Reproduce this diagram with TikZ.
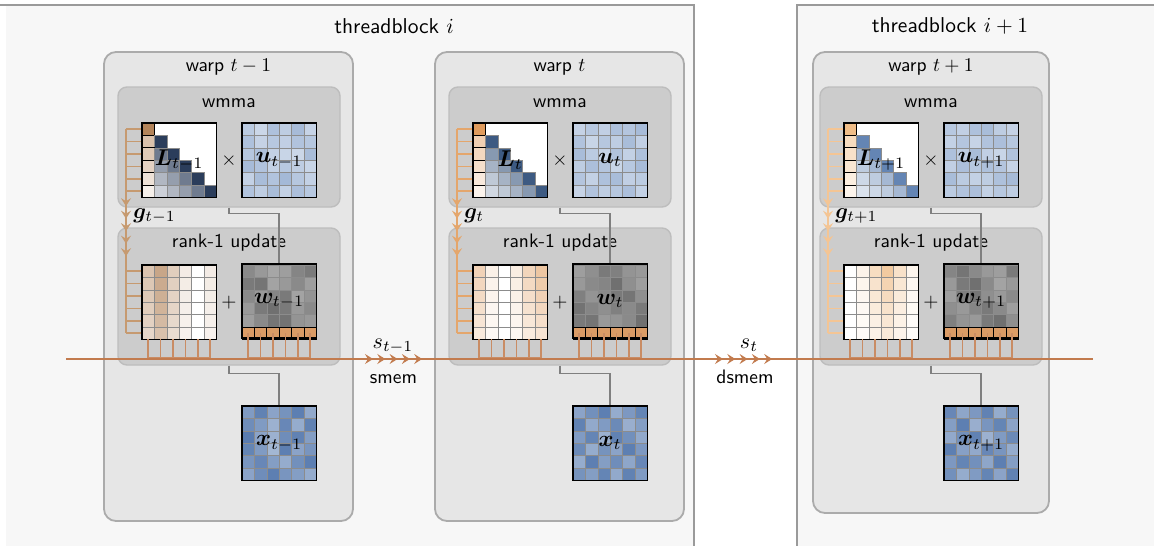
\documentclass[tikz,border=0pt]{standalone}
\usepackage{bm}
\usetikzlibrary{arrows.meta,decorations.markings}

\definecolor{tbfill}{HTML}{F7F7F7}
\definecolor{tbline}{HTML}{9A9A9A}
\definecolor{warpfill}{HTML}{E6E6E6}
\definecolor{warpline}{HTML}{ABABAB}
\definecolor{innerfill}{HTML}{CCCCCC}
\definecolor{innerline}{HTML}{BDBDBD}
\definecolor{sienna}{HTML}{C27B4E}
\definecolor{combc}{HTML}{C98C64}
\definecolor{connc}{HTML}{7F7F7F}
\definecolor{cellline}{HTML}{8C8C8C}
\definecolor{navyA}{HTML}{2B3D5B}
\definecolor{navyB}{HTML}{3D5A82}
\definecolor{navyC}{HTML}{6485B4}
\definecolor{ublue}{HTML}{7D9BC6}
\definecolor{xblue}{HTML}{4F74AB}
\definecolor{stateor}{HTML}{DB9C66}
\definecolor{gA}{HTML}{B3845A}
\definecolor{gB}{HTML}{E09C5E}
\definecolor{gC}{HTML}{EFBD88}
\definecolor{glA}{HTML}{C69A70}
\definecolor{glB}{HTML}{E4A66C}
\definecolor{glC}{HTML}{F4C594}

\tikzset{
  warpbox/.style={draw=warpline, fill=warpfill, line width=1.8pt, rounded corners=12pt, inner sep=0pt},
  innerbox/.style={draw=innerline, fill=innerfill, line width=1.4pt, rounded corners=9pt, inner sep=0pt, minimum width=222pt},
  lbl/.style={font=\sffamily, inner sep=0pt, scale=1.95},
  mathlbl/.style={inner sep=0pt, scale=2.2},
  tblbl/.style={font=\sffamily, inner sep=0pt, scale=2.15},
  mat/.style={draw=black, line width=1.5pt, minimum size=74.4pt, inner sep=0pt},
  cellA/.style={draw=cellline, line width=0.6pt},
  conn/.style={draw=connc, line width=1.5pt},
  comb/.style={draw=combc, line width=1.5pt},
  sline/.style={draw=sienna, line width=2.6pt},
  chevtip/.tip={Stealth[length=8pt,width=10pt,inset=3pt]},
}
\newcommand\mlab[1]{\scalebox{2.28}{$#1$}}

% 6x6 grid of shaded cells from a list of 36 (or 30) intensities
\newcommand\fillcells[4]{%
  \foreach \v [count=\k from 0] in #4 {%
    \pgfmathtruncatemacro\rr{floor(\k/6)}%
    \pgfmathtruncatemacro\cc{\k-6*\rr}%
    \filldraw[fill=#3!\v!white, cellA] ({#1+\cc*12.4},{#2+\rr*12.4}) rectangle ++(12.4,12.4);
  }%
}

% one warp: wmma block, rank-1 update block, state output
\newcommand\warpcontent[3]{%
\begin{scope}[xshift=#1pt]
  \node[innerbox, minimum height=120pt] (wm#2) at (229,147) {};
  \node[lbl, anchor=base] (wmt#2) at (229,107) {wmma};
  \node[innerbox, minimum height=137pt] (rk#2) at (229,296.5) {};
  \node[lbl, anchor=base] (rkt#2) at (229,247) {rank-1 update};
  % decay matrix L with gate column
  \fill[white] (142,123) rectangle ++(74.4,74.4);
  \foreach \r in {0,...,5}{%
    \pgfmathtruncatemacro\gv{{\gcol}[\r]}%
    \filldraw[fill=\gbase!\gv!white, draw=black, line width=0.7pt] (142,{123+\r*12.4}) rectangle ++(12.4,12.4);
    \ifnum\r>0
      \foreach \c in {1,...,\r}{%
        \pgfmathtruncatemacro\dv{{\Ldecay}[\r-\c]}%
        \filldraw[fill=\ldiag!\dv!white, cellA] ({142+\c*12.4},{123+\r*12.4}) rectangle ++(12.4,12.4);
      }%
    \fi
  }
  \node[mat] (L#2) at (179.2,160.2) {\mlab{\bm{L}_{#3}}};
  % u
  \fillcells{242}{123}{ublue}{\ulist}
  \node[mat] (u#2) at (279.2,160.2) {\mlab{\bm{u}_{#3}}};
  \node[lbl] (tm#2) at (229,160.2) {$\times$};
  % outer product
  \fill[white] (142,265) rectangle ++(74.4,74.4);
  \foreach \r in {0,...,5}{%
    \foreach \c in {0,...,5}{%
      \pgfmathtruncatemacro\vv{{\Rcol}[\c]*{\Rrow}[\r]/100}%
      \filldraw[fill=\gbase!\vv!white, cellA] ({142+\c*12.4},{265+\r*12.4}) rectangle ++(12.4,12.4);
    }%
  }
  \node[mat] (R#2) at (179.2,302.2) {};
  % w with state row
  \fillcells{242}{265}{black}{\wlist}
  \foreach \c in {0,...,5}{%
    \filldraw[fill=stateor, draw=black, line width=0.7pt] ({242+\c*12.4},327) rectangle ++(12.4,12.4);
  }
  \node[mat] (w#2) at (279.2,301) {\mlab{\bm{w}_{#3}}};
  \node[lbl] (pl#2) at (229,302.2) {$+$};
  % x
  \fillcells{242}{406}{xblue}{\xlist}
  \node[mat] (x#2) at (279.2,443.2) {\mlab{\bm{x}_{#3}}};
  % gate line
  \coordinate (gt#2) at (126,129.2);
  \coordinate (gb#2) at (126,333.2);
  \foreach \r in {0,...,5}{%
    \draw[draw=\glc, line width=1.5pt] (126,{129.2+\r*12.4}) -- (L#2.west |- 0,{129.2+\r*12.4});
    \draw[draw=\glc, line width=1.5pt] (126,{271.2+\r*12.4}) -- (R#2.west |- 0,{271.2+\r*12.4});
  }
  \draw[draw=\glc, line width=1.5pt, postaction={decorate}, decoration={markings,
    mark=between positions 77pt and 128pt step 12.5pt with {\arrow[\glc]{chevtip}}}] (gt#2) -- (gb#2);
  \node[mathlbl, anchor=base west] (g#2) at (133,218.5) {$\bm{g}_{#3}$};
  % data flow between blocks
  \draw[conn] (wm#2.south) -- ++(0,6) -| (w#2.north);
  \draw[conn] (rk#2.south) -- ++(0,8) -| (x#2.north);
  % taps onto the state line
  \foreach \c in {0,...,5}{%
    \draw[comb] ({148.2+\c*12.4},339.4) -- ({148.2+\c*12.4},358);
    \draw[comb] ({248.2+\c*12.4},333.2) -- ({248.2+\c*12.4},358);
  }
  \draw[comb] (148.2,358) -- (210.2,358);
  \draw[comb] (248.2,358) -- (310.2,358);
\end{scope}}

\begin{document}
\begin{tikzpicture}[x=1pt,y=-1pt]
  \fill[white] (0,0) rectangle (1154,546);
  \useasboundingbox (0,0) rectangle (1154,546);

  % thread blocks
  \fill[tbfill] (6,5) rectangle (694,546);
  \draw[tbline, line width=2.6pt] (0,5) -- (694,5) -- (694,546);
  \fill[tbfill] (797,5) rectangle (1154,546);
  \draw[tbline, line width=2.6pt] (797,546) -- (797,5) -- (1154,5);
  \node[tblbl, anchor=base] (tbA) at (394,33) {threadblock $i$};
  \node[tblbl, anchor=base] (tbB) at (950,32) {threadblock $i+1$};

  % warps
  \node[warpbox, minimum width=249pt, minimum height=469pt] (wpA) at (228.5,286.5) {};
  \node[warpbox, minimum width=249pt, minimum height=469pt] (wpB) at (559.5,286.5) {};
  \node[warpbox, minimum width=236pt, minimum height=461pt] (wpC) at (931,282.5) {};
  \node[lbl, anchor=base] (wpAt) at (228.5,71) {warp $t-1$};
  \node[lbl, anchor=base] (wpBt) at (559.5,71) {warp $t$};
  \node[lbl, anchor=base] (wpCt) at (931,71) {warp $t+1$};

  % warp t-1
  \def\ldiag{navyA}\def\Ldecay{100,68,50,37,24}
  \def\gbase{gA}\def\gcol{100,50,44,37,24,13}\def\glc{glA}
  \def\Rcol{48,72,40,16,0,16}\def\Rrow{100,95,90,85,78,70}
  \def\ulist{52,40,62,50,68,44, 62,45,55,48,60,56, 56,62,46,42,40,66, 68,60,46,55,50,42, 46,66,60,70,56,46, 60,50,66,46,64,55}
  \def\xlist{72,90,66,78,92,62, 82,72,56,86,60,90, 94,66,56,82,90,70, 88,72,52,92,66,76, 76,86,70,60,80,92, 66,82,92,76,70,60}
  \def\wlist{46,40,35,38,48,52, 52,54,36,40,46,38, 46,40,48,52,36,42, 40,52,56,52,40,46, 38,46,54,55,42,40}
  \warpcontent{0}{a}{t-1}

  % warp t
  \def\ldiag{navyB}\def\Ldecay{100,62,46,33,24}
  \def\gbase{gB}\def\gcol{100,48,39,32,22,12}\def\glc{glB}
  \def\Rcol{45,14,0,18,42,58}\def\Rrow{100,90,80,70,58,48}
  \def\ulist{45,55,48,62,58,68, 60,42,56,50,66,48, 66,52,44,60,46,62, 50,64,58,42,55,68, 58,46,62,66,48,52, 44,60,50,56,64,46}
  \def\xlist{66,80,92,60,74,88, 90,62,72,84,58,70, 72,88,56,90,80,62, 84,60,78,66,92,74, 60,92,70,82,64,86, 78,70,88,62,90,72}
  \def\wlist{38,44,52,50,42,40, 40,46,48,56,44,38, 50,42,46,52,54,44, 55,48,44,50,46,52, 52,54,40,42,46,56}
  \warpcontent{331}{b}{t}

  % warp t+1
  \def\ldiag{navyC}\def\Ldecay{100,58,42,32,24}
  \def\gbase{gC}\def\gcol{100,55,45,38,26,16}\def\glc{glC}
  \def\Rcol{0,18,52,80,45,15}\def\Rrow{100,82,68,56,46,40}
  \def\ulist{55,48,62,66,50,45, 46,58,44,60,64,56, 62,50,66,48,42,60, 48,64,55,62,58,44, 66,52,46,50,62,68, 52,60,64,46,55,50}
  \def\xlist{86,64,74,90,60,78, 70,92,58,76,88,66, 62,80,90,56,72,84, 92,68,62,86,76,60, 74,88,80,64,92,70, 80,60,72,88,66,90}
  \def\wlist{48,54,46,40,38,52, 40,52,56,46,36,40, 38,50,54,44,40,46, 44,40,48,52,46,38, 50,42,40,52,56,44}
  \warpcontent{702}{c}{t+1}

  % recurrent state line through shared and distributed shared memory
  \coordinate (sL) at (66,359);
  \coordinate (sR) at (1093,359);
  \draw[sline, postaction={decorate}, decoration={markings,
    mark=between positions 307pt and 358pt step 12.3pt with {\arrow[sienna]{chevtip}},
    mark=between positions 657pt and 708pt step 12.3pt with {\arrow[sienna]{chevtip}}}] (sL) -- (sR);
  \node[mathlbl, anchor=base] (sA) at (393,348) {$s_{t-1}$};
  \node[lbl, anchor=base] (mA) at (393.5,383) {smem};
  \node[mathlbl, anchor=base] (sB) at (749,348) {$s_t$};
  \node[lbl, anchor=base] (mB) at (745,383) {dsmem};
\end{tikzpicture}
\end{document}
